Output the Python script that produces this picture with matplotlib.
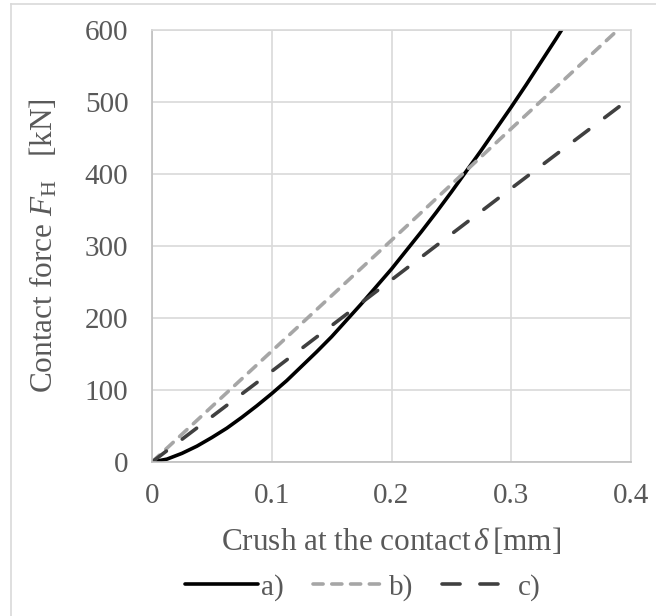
import numpy as np
import matplotlib.pyplot as plt
from matplotlib.lines import Line2D

# values
crush_a = [0, 0.0125, 0.025, 0.0375, 0.05, 0.0625, 0.075, 0.0875, 0.1, 0.1125, 0.125, 0.1375,
           0.15, 0.1625, 0.175, 0.1875, 0.2, 0.2125, 0.225, 0.2375, 0.25, 0.2625, 0.275,
           0.2875, 0.3, 0.3125, 0.325, 0.3375, 0.35]
force_a = [0, 4, 12, 22, 34, 47, 62, 78, 95, 113, 133, 153,
           174, 197, 220, 244, 268, 294, 320, 347, 375, 404, 433,
           463, 493, 524, 556, 588, 621]
crush_b = [0, 0.1, 0.2, 0.3, 0.4]
force_b = [0, 154, 308, 463, 617]
crush_c = [0, 0.1, 0.2, 0.3, 0.4]
force_c = [0, 126, 253, 380, 506]
labels = ['a)', 'b)', 'c)']

plt.rcParams['font.family'] = 'Liberation Serif'
plt.rcParams['mathtext.fontset'] = 'custom'
plt.rcParams['mathtext.rm'] = 'Liberation Serif'
plt.rcParams['mathtext.it'] = 'Liberation Serif:italic'

txt = '#595959'
fs = 21
lfs = 22.5

fig = plt.figure(figsize=(6.56, 6.16), dpi=100)
ax = fig.add_axes([152/656, 1 - 462/616, 479/656, 432/616])

lw = 2.6
ax.plot(crush_a, force_a, color='black', lw=lw, solid_capstyle='round',
        solid_joinstyle='round', label=labels[0])
ax.plot(crush_b, force_b, color='#A6A6A6', lw=lw, dashes=(2.8, 2.4), dash_capstyle='round', label=labels[1])
ax.plot(crush_c, force_c, color='#404040', lw=lw, dashes=(5, 5.5), dash_capstyle='round', label=labels[2])

ax.set_xlim(0, 0.4)
ax.set_ylim(0, 600)
ax.set_xticks([0, 0.1, 0.2, 0.3, 0.4])
ax.set_xticklabels(['0', '0.1', '0.2', '0.3', '0.4'])
ax.set_yticks(np.arange(0, 601, 100))
ax.grid(True, color='#D9D9D9', lw=1.2)
ax.set_axisbelow(True)
for s in ['top', 'right']:
    ax.spines[s].set_color('#D9D9D9')
for s in ['left', 'bottom']:
    ax.spines[s].set_color('#BFBFBF')
for s in ax.spines.values():
    s.set_linewidth(1.2)
ax.tick_params(length=0, labelsize=fs, labelcolor=txt)
ax.tick_params(axis='y', pad=17)
ax.tick_params(axis='x', pad=15)

ax.set_ylabel(r'Contact force $F_{\mathrm{H}}$   [kN]', fontsize=lfs, color=txt, labelpad=18)
ax.set_xlabel(r'Crush at the contact$\,\delta\,$[mm]', fontsize=lfs, color=txt, labelpad=12)

leg = ax.legend(loc='center', bbox_to_anchor=(0.44, -0.29), ncol=3, frameon=False,
                fontsize=fs, labelcolor=txt, handlelength=2.5, handletextpad=0.1,
                columnspacing=1.0)

# thin outer border of the chart box
fig.add_artist(Line2D([11/656, 11/656], [0, 1 - 4/616], color='#D9D9D9', lw=1.2))
fig.add_artist(Line2D([11/656, 1], [1 - 4/616, 1 - 4/616], color='#D9D9D9', lw=1.2))

fig.savefig('out.png', dpi=100)
